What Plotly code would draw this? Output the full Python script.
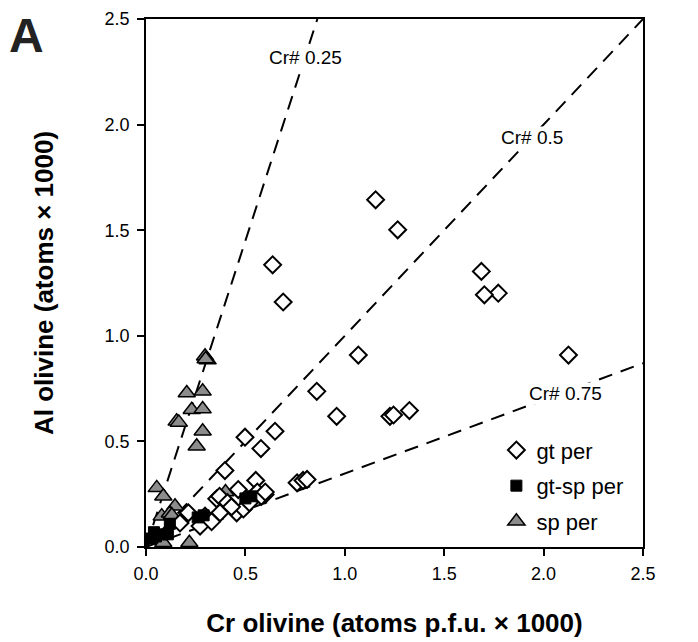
import plotly.graph_objects as go

# ---- data ----
gt_cr = [1.155, 1.266, 0.637, 1.687, 1.772, 1.702, 0.69, 2.125, 1.068, 0.859,
         0.959, 1.227, 1.245, 1.325, 0.498, 0.649, 0.578, 0.397, 0.76, 0.79,
         0.81, 0.552, 0.464, 0.599, 0.56, 0.356, 0.37, 0.41, 0.456, 0.49,
         0.372, 0.297, 0.272, 0.213, 0.171, 0.52, 0.58, 0.60, 0.43, 0.33]
gt_al = [1.644, 1.502, 1.336, 1.305, 1.202, 1.194, 1.16, 0.909, 0.909, 0.737,
         0.619, 0.619, 0.625, 0.646, 0.520, 0.548, 0.466, 0.362, 0.304, 0.315,
         0.32, 0.315, 0.272, 0.248, 0.26, 0.228, 0.24, 0.21, 0.162, 0.18,
         0.162, 0.146, 0.099, 0.162, 0.114, 0.21, 0.24, 0.26, 0.19, 0.12]

gtsp_cr = [0.02, 0.05, 0.08, 0.11, 0.04, 0.12, 0.26, 0.29, 0.50, 0.53]
gtsp_al = [0.04, 0.05, 0.06, 0.06, 0.07, 0.11, 0.14, 0.15, 0.23, 0.24]

sp_cr = [0.297, 0.31, 0.30, 0.205, 0.285, 0.23, 0.285, 0.154, 0.165, 0.285,
         0.255, 0.054, 0.087, 0.146, 0.079, 0.12, 0.087, 0.218, 0.13, 0.40]
sp_al = [0.903, 0.885, 0.89, 0.729, 0.737, 0.65, 0.653, 0.595, 0.59, 0.548,
         0.477, 0.28, 0.24, 0.193, 0.146, 0.16, 0.02, 0.02, 0.15, 0.26]

# Cr# reference lines: from origin to the end point on the frame
crnum_labels = ["Cr# 0.25", "Cr# 0.5", "Cr# 0.75"]
line_end_cr = [0.862, 2.5, 2.5]
line_end_al = [2.5, 2.5, 0.87]
label_cr = [0.80, 1.94, 2.11]
label_al = [2.32, 1.94, 0.726]

tick_vals = [0.0, 0.5, 1.0, 1.5, 2.0, 2.5]
tick_text = ["0.0", "0.5", "1.0", "1.5", "2.0", "2.5"]

FONT = "Liberation Sans, Arial, sans-serif"

fig = go.Figure()

for ec, ea in zip(line_end_cr, line_end_al):
    fig.add_trace(go.Scatter(
        x=[0, ec], y=[0, ea], mode="lines", showlegend=False, hoverinfo="skip",
        line=dict(color="black", width=2, dash="14px,9px")))

fig.add_trace(go.Scatter(
    x=sp_cr, y=sp_al, mode="markers", name="sp per", legendrank=3,
    legendgroup="c", cliponaxis=False,
    marker=dict(symbol="triangle-up", size=15, color="#8c8c8c",
                line=dict(color="black", width=1.5))))

fig.add_trace(go.Scatter(
    x=gt_cr, y=gt_al, mode="markers", name="gt per", legendrank=1,
    legendgroup="a", cliponaxis=False,
    marker=dict(symbol="diamond", size=13, color="white",
                line=dict(color="black", width=2))))

fig.add_trace(go.Scatter(
    x=gtsp_cr, y=gtsp_al, mode="markers", name="gt-sp per", legendrank=2,
    legendgroup="b", cliponaxis=False,
    marker=dict(symbol="square", size=11, color="black",
                line=dict(color="black", width=1))))

for txt, lx, ly in zip(crnum_labels, label_cr, label_al):
    fig.add_annotation(x=lx, y=ly, text=txt, showarrow=False,
                       font=dict(family=FONT, size=19, color="black"),
                       bgcolor="white", borderpad=0)

fig.add_annotation(xref="paper", yref="paper", x=-0.28, y=1.022,
                   text="<b>A</b>", showarrow=False, xanchor="left",
                   yanchor="top",
                   font=dict(family=FONT, size=48, color="#222"))

axis_common = dict(
    range=[0, 2.5], tickvals=tick_vals, ticktext=tick_text,
    ticks="outside", ticklen=7, tickwidth=1.5, tickcolor="black",
    showline=True, linecolor="black", linewidth=1.5, mirror=True,
    showgrid=False, zeroline=False, automargin=False,
    tickfont=dict(family=FONT, size=18, color="black"),
)

fig.update_xaxes(**axis_common, ticklabelstandoff=3,
                 title=dict(text="<b>Cr olivine (atoms p.f.u. × 1000)</b>",
                            font=dict(family=FONT, size=26, color="black"),
                            standoff=30))
fig.update_yaxes(**axis_common, ticklabelstandoff=4,
                 title=dict(text="<b>Al olivine (atoms × 1000)</b>",
                            font=dict(family=FONT, size=26, color="black"),
                            standoff=44))

fig.update_layout(
    width=698, height=642,
    margin=dict(l=146, r=55, t=19, b=95),
    paper_bgcolor="white", plot_bgcolor="white",
    showlegend=True,
    legend=dict(x=0.705, y=0.223, xanchor="left", yanchor="top",
                bgcolor="rgba(0,0,0,0)", tracegroupgap=4,
                font=dict(family=FONT, size=22, color="black")),
)

fig.write_html("out.html")
